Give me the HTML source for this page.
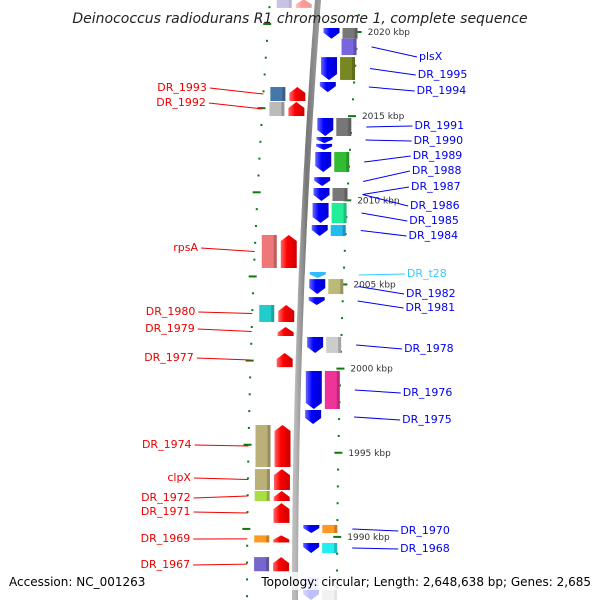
<!DOCTYPE html>
<html><head><meta charset="utf-8"><style>
body{margin:0;background:#fff}
svg{display:block;font-family:"DejaVu Sans","Liberation Sans",sans-serif}
</style></head><body>
<svg id="c" width="600" height="600" viewBox="0 0 600 600">
<defs>
<linearGradient id="gb" x1="0" x2="1"><stop offset="0" stop-color="#6666ff"/><stop offset="0.4" stop-color="#0000ff"/><stop offset="1" stop-color="#0000cc"/></linearGradient>
<linearGradient id="gr" x1="0" x2="1"><stop offset="0" stop-color="#ff6666"/><stop offset="0.4" stop-color="#ff0000"/><stop offset="1" stop-color="#cc0000"/></linearGradient>
<linearGradient id="bk" x1="0" x2="1"><stop offset="0" stop-color="#bbb"/><stop offset="0.5" stop-color="#777"/><stop offset="1" stop-color="#999"/></linearGradient>
</defs>
<g id="ticks"></g>
<path id="backbone" fill="none" stroke="url(#bk)" stroke-width="6"/>
<g id="genes"></g>
<g id="labels"></g>
<text x="300" y="23" text-anchor="middle" font-size="14" font-style="italic" fill="#222">Deinococcus radiodurans R1 chromosome 1, complete sequence</text>
<rect x="5" y="572" width="130" height="18" fill="#fff" opacity="0.8"/>
<text x="9" y="586" font-size="12" fill="#000">Accession: NC_001263</text>
<rect x="258" y="572" width="338" height="18" fill="#fff" opacity="0.8"/>
<text x="591" y="586" font-size="12" text-anchor="end" fill="#000">Topology: circular; Length: 2,648,638 bp; Genes: 2,685</text>
</svg>
<script>
// minus-strand genes (right side)
const rNames=["","plsX","DR_1995","DR_1994","DR_1991","DR_1990","","DR_1989","DR_1988","DR_1987","DR_1986","DR_1985","DR_1984","DR_t28","DR_1982","DR_1981","DR_1978","DR_1976","DR_1975","DR_1970","DR_1968",""];
const rStart=[2020.24,2019.6,2018.51,2017.03,2014.89,2013.76,2013.35,2012.87,2011.38,2010.73,2010.73,2009.84,2008.53,2005.74,2005.32,2004.25,2001.88,1999.86,1997.54,1990.71,1989.64,1987.62];
const rEnd=[2019.6,2018.63,2017.15,2016.43,2013.82,2013.40,2012.99,2011.68,2010.85,2009.96,2009.96,2008.65,2007.88,2005.38,2004.43,2003.78,2000.93,1997.60,1996.71,1990.23,1989.04,1986.25];
const rBox=["#777","#7766dd","#778822","","#777","","","#33bb33","","","#777","#22ee99","#22bbee","","#bbbb77","","#ccc","#ee3399","","#ff9922","#22eeee","#ccc"];
const rArrow=[1,0,1,1,1,1,1,1,1,1,0,1,1,1,1,1,1,1,1,1,1,1];
const rLabelY=[0,55,73,89,124,139,0,154,169,185,204,219,234,272,292,306,347,391,418,529,547,0];
// plus-strand genes (left side)
const lNames=["DR_1993","DR_1992","rpsA","DR_1980","DR_1979","DR_1977","DR_1974","clpX","DR_1972","DR_1971","DR_1969","DR_1967",""];
const lStart=[2015.90,2015.01,2005.98,2002.77,2001.94,2000.09,1994.15,1992.79,1992.13,1990.83,1989.67,1987.96,2021.43];
const lEnd=[2016.73,2015.84,2007.94,2003.78,2002.47,2000.93,1996.65,1994.03,1992.73,1992.01,1990.09,1988.80,2021.95];
const lBox=["#4477aa","#bbb","#ee7777","#22cccc","","","#bbb077","#bbb077","#aadd44","","#ff9922","#7766cc","#7766bb"];
const lLabelY=[86,101,246,310,327,356,443,476,496,510,537,563,0];
const majorTicks=[2020,2015,2010,2005,2000,1995,1990];

const NS="http://www.w3.org/2000/svg";
function Y(k){return 32+(2020-k)*16.83;}
function XB(y){const t=(600-y)/600;return 295+23*t*t;}
function mk(tag,attrs,parent){const e=document.createElementNS(NS,tag);for(const a in attrs)e.setAttribute(a,attrs[a]);parent.appendChild(e);return e;}
const gT=document.getElementById('ticks'),gG=document.getElementById('genes'),gL=document.getElementById('labels');
let d="";for(let y=-5;y<=605;y+=5){d+=(y<0?"M":"L")+XB(y).toFixed(1)+" "+y;}
document.getElementById('backbone').setAttribute('d',d);
for(let k=2022;k>=1985;k--){
  const y=Y(k),xb=XB(y),maj=majorTicks.includes(k);
  const t1=mk('rect',{x:xb+(maj?38:41),y:y-1,width:maj?8:2,height:2,fill:"#117711"},gT);
  
  
  const yl=y-8;const xl=XB(yl);
  const t2=mk('rect',{x:xl-(maj?53:49),y:yl-1,width:maj?8:2,height:2,fill:"#117711"},gT);
  
  
  if(maj){const tx=mk('text',{x:xb+52,y:y+3,"font-size":9,fill:"#333"},gT);tx.textContent=k+" kbp";
    
    }
}
function arrowDown(x,y1,y2,w){const p=Math.min(6,(y2-y1)*0.6);return `M${x} ${y1}H${x+w}V${y2-p}L${x+w/2} ${y2}L${x} ${y2-p}Z`;}
function arrowUp(x,y1,y2,w){const p=Math.min(6,(y2-y1)*0.6);return `M${x} ${y2}H${x+w}V${y1+p}L${x+w/2} ${y1}L${x} ${y1+p}Z`;}
rStart.forEach((s,i)=>{
  const y1=Y(s),y2=Y(rEnd[i]),xb=XB((y1+y2)/2);
  const fade=y1>570?0.25:1;
  if(rArrow[i]){const a=mk('path',{d:arrowDown(xb+8,y1,y2,16),fill:rNames[i]=="DR_t28"?"#33bbff":"url(#gb)",opacity:fade},gG);
    
    }
  if(rBox[i]){const b=mk('rect',{x:xb+27,y:y1,width:15,height:y2-y1,fill:rBox[i],opacity:fade},gG);
    
    
    mk('rect',{x:xb+39,y:y1,width:3,height:y2-y1,fill:"#000",opacity:0.2*fade},gG);}
  if(rNames[i]){const ly=rLabelY[i],gy=(y1+y2)/2,lx=XB(ly)+105;
    const ln=mk('line',{x1:XB(gy)+57,y1:gy,x2:lx-2,y2:ly+2,stroke:rNames[i]=="DR_t28"?"#33ccff":"#0000ee","stroke-width":1},gL);
    
    
    const t=mk('text',{x:lx,y:ly+5,"font-size":11,fill:rNames[i]=="DR_t28"?"#33ccff":"#0000ee"},gL);t.textContent=rNames[i];
    
    }
});
lStart.forEach((s,i)=>{
  const y1=Y(lEnd[i]),y2=Y(s),xb=XB((y1+y2)/2);
  const fade=y2<12?0.4:1;
  const a=mk('path',{d:arrowUp(xb-22,y1,y2,16),fill:"url(#gr)",opacity:fade},gG);
  
  
  if(lBox[i]){const b=mk('rect',{x:xb-41,y:y1,width:15,height:y2-y1,fill:lBox[i],opacity:fade},gG);
    
    
    mk('rect',{x:xb-29,y:y1,width:3,height:y2-y1,fill:"#000",opacity:0.2*fade},gG);}
  if(lNames[i]){const ly=lLabelY[i],gy=(y1+y2)/2,lx=XB(ly)-105;
    const ln=mk('line',{x1:lx+3,y1:ly+2,x2:XB(gy)-48,y2:gy,stroke:"#ee0000","stroke-width":1},gL);
    
    
    const t=mk('text',{x:lx,y:ly+5,"font-size":11,fill:"#ee0000","text-anchor":"end"},gL);t.textContent=lNames[i];
    
    }
});
</script>
</body></html>
